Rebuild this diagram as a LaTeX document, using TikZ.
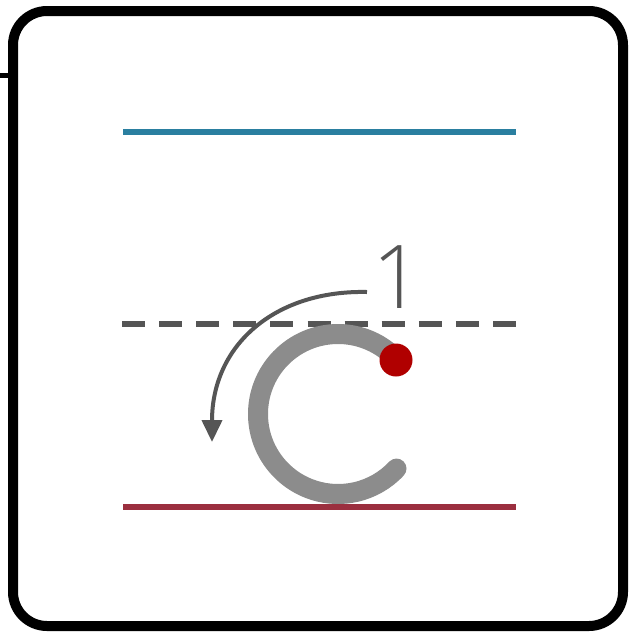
\documentclass[tikz,border=0pt]{standalone}
\usepackage{fontspec}
\setmainfont{Liberation Sans}
\newfontfamily\lightfont{Open Sans Light}
\usetikzlibrary{arrows.meta}
\definecolor{bluel}{HTML}{2A7FA0}
\definecolor{redl}{HTML}{9B2F3F}
\definecolor{dashg}{HTML}{555555}
\definecolor{arcg}{HTML}{8C8C8C}
\definecolor{dotr}{HTML}{B00000}
\tikzset{
  guide/.style={line width=5.5, line cap=butt},
}
\begin{document}
\begin{tikzpicture}[x=1pt,y=-1pt]
\useasboundingbox (0,0) rectangle (632,633);
\fill[white] (0,0) rectangle (632,633);
% frame
\draw[line width=10, rounded corners=34] (13,11) rectangle (623,626);
\draw[line width=5] (0,75) -- (10,75);
% guides
\draw[guide, bluel] (123,132) -- (516,132);
\draw[guide, redl] (123,507) -- (516,507);
\draw[guide, dashg, dash pattern=on 23 off 14.1] (122,324) -- (516,324);
% C stroke
\coordinate (c) at (338,414);
\draw[arcg, line width=20, line cap=round] ([shift={(-43:80)}]c) arc[start angle=-43, end angle=-317, radius=80];
% red dot
\node[circle, fill=dotr, minimum size=33, inner sep=0] (dot) at (396,360) {};
% arrow
\coordinate (as) at (367,292);
\coordinate (ae) at (212,442);
\draw[dashg, line width=4, -{Triangle[width=20,length=22]}] (as) .. controls (275,290) and (212,345) .. (ae);
% label
\node[text=dashg, inner sep=0, anchor=base] (one) at (398,308) {\lightfont\fontsize{88}{88}\selectfont 1};
\end{tikzpicture}
\end{document}
